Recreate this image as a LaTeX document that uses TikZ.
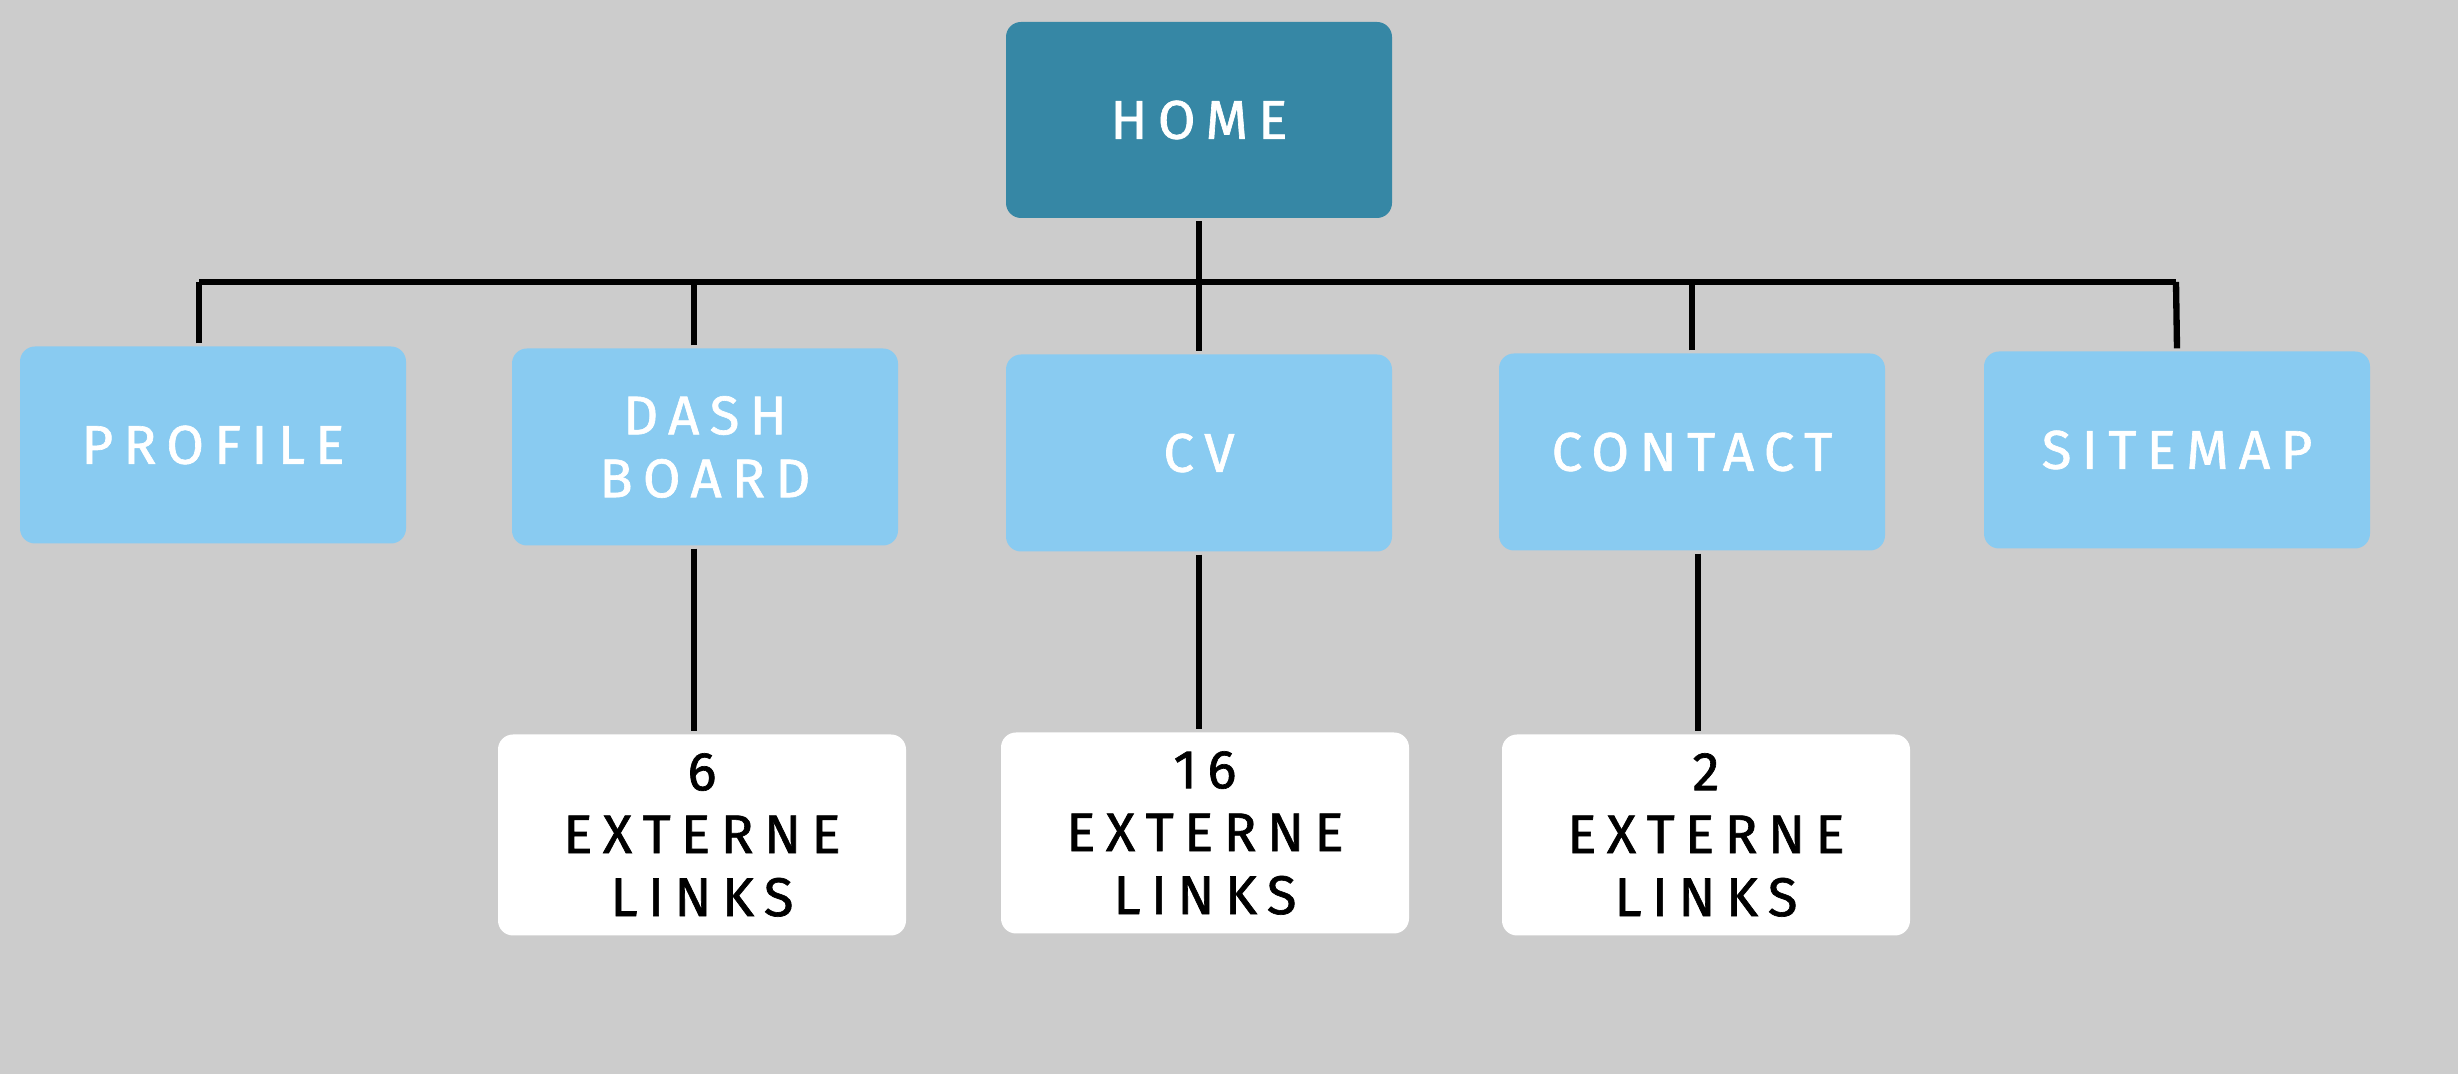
\documentclass[tikz,border=0pt]{standalone}
\usepackage{fontspec}
\setmainfont{Fira Sans}[LetterSpace=19,FakeBold=1.2,UprightFeatures={FakeBold=1.2}]
\usetikzlibrary{calc}
\definecolor{homeblue}{RGB}{54,135,165}
\definecolor{pageblue}{RGB}{137,203,241}
\definecolor{bggray}{RGB}{204,204,204}

\begin{document}
\begin{tikzpicture}[line width=1.8pt,
        home_style/.style={rectangle,rounded corners=0.15cm,fill=homeblue,text=white,minimum width=3.86cm,minimum height=1.96cm,align=center,font=\fontsize{15.5}{17.9}\selectfont},
        page_style/.style={rectangle,rounded corners=0.15cm,fill=pageblue,text=white,minimum width=3.86cm,minimum height=1.97cm,align=center,font=\fontsize{15.5}{17.9}\selectfont},
        link_style/.style={rectangle,rounded corners=0.15cm,fill=white,text=black,minimum width=4.08cm,minimum height=2.01cm,align=center,font=\fontsize{15.5}{17.9}\selectfont},
        edge_style/.style={draw=black,line width=1.8pt}]

        \fill [bggray] (0,0) rectangle (24.58,10.74);
        \useasboundingbox (0,0) rectangle (24.58,10.74);

        \node [home_style](home) at (11.99,9.54) {HOME};

        \node [page_style](profile) at (2.13,6.29) {PROFILE};

        \node [page_style](dash) at (7.05,6.27) {DASH\\BOARD};

        \node [page_style](cv) at (11.99,6.21) {CV};

        \node [page_style](contact) at (16.92,6.22) {CONTACT};

        \node [page_style](sitemap) at (21.77,6.24) {SITEMAP};

        \node [link_style](ext1) at (7.02,2.39) {6\\EXTERNE\\LINKS};

        \node [link_style](ext2) at (12.05,2.41) {16\\EXTERNE\\LINKS};

        \node [link_style](ext3) at (17.06,2.39) {2\\EXTERNE\\LINKS};

        \coordinate (bar_l) at (1.99,7.92);
        \coordinate (bar_r) at (21.76,7.92);

        \draw [edge_style] (bar_l) -- (bar_r);

        \draw [edge_style] (home) -- (cv);

        \draw [edge_style] ([xshift=-0.14cm]profile.north) -- (bar_l);

        \draw [edge_style] ([xshift=-0.11cm]dash.north) -- ([xshift=-0.11cm]dash.north |- bar_l);

        \draw [edge_style] (contact.north) -- (contact.north |- bar_l);

        \draw [edge_style] (sitemap.north) -- (bar_r);

        \draw [edge_style] ([xshift=-0.11cm]dash.south) -- ([xshift=-0.11cm]dash.south |- ext1.north);

        \draw [edge_style] (cv.south) -- (cv.south |- ext2.north);

        \draw [edge_style] ([xshift=0.06cm]contact.south) -- ([xshift=0.06cm]contact.south |- ext3.north);

\end{tikzpicture}
\end{document}
